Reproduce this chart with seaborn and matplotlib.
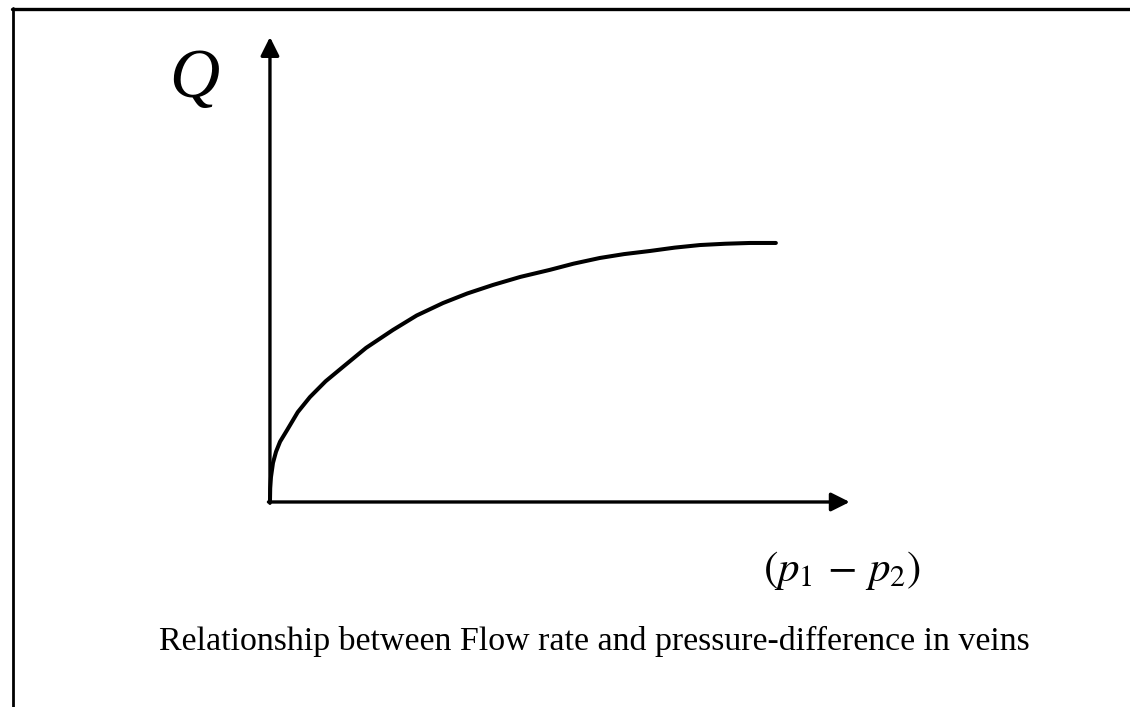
import matplotlib
matplotlib.use("Agg")
import matplotlib.pyplot as plt
import seaborn as sns
import pandas as pd

# pressure difference (p1 - p2) and flow rate Q (arbitrary units)
pressure_diff = [0.0, 0.005, 0.02, 0.06, 0.12, 0.2, 0.34, 0.55, 0.79, 1.1, 1.44, 1.9,
                 2.43, 2.9, 3.42, 3.9, 4.41, 4.95, 5.53, 6.0, 6.52, 7.0, 7.51, 8.0,
                 8.5, 9.0, 9.49, 10.0]
flow_rate = [0.0, 0.53, 0.96, 1.51, 1.94, 2.33, 2.78, 3.47, 4.05, 4.66, 5.21, 5.95,
             6.64, 7.2, 7.68, 8.05, 8.38, 8.69, 8.96, 9.2, 9.42, 9.57, 9.69, 9.82,
             9.92, 9.97, 10.0, 10.0]

x_axis_end = 11.46
y_axis_end = 17.95

caption = "Relationship between Flow rate and pressure-difference in veins"

df = pd.DataFrame({"dp": pressure_diff, "Q": flow_rate})

sns.set_theme(style="white")
plt.rcParams["font.family"] = ["Liberation Serif", "DejaVu Serif"]
plt.rcParams["mathtext.fontset"] = "stix"
plt.rcParams["text.color"] = "black"

fig = plt.figure(figsize=(11.3, 7.07), dpi=100)
ax = fig.add_axes([0, 0, 1, 1])

sns.lineplot(data=df, x="dp", y="Q", ax=ax, color="black", linewidth=2.9,
             sort=False, estimator=None)

# axis arrows
arrow = dict(arrowstyle="-|>", color="black", lw=2.4, mutation_scale=28,
             shrinkA=0, shrinkB=0)
ax.annotate("", xy=(0, y_axis_end), xytext=(0, -0.05), arrowprops=arrow)
ax.annotate("", xy=(x_axis_end, 0), xytext=(-0.03, 0), arrowprops=arrow)

ax.set_xlim(-5.336, 17.0)
ax.set_ylim(-7.915, 19.38)
ax.axis("off")

# axis labels and caption
fig.text(194 / 1130, 1 - 80 / 707, "Q", fontsize=50, style="italic",
         color="black", ha="center", va="center")
fig.text(842 / 1130, 1 - 571 / 707, r"$(p_1\,-\,p_2)$", fontsize=31,
         color="black", ha="center", va="center")
fig.text(594 / 1130, 1 - 650 / 707, caption, fontsize=24.4,
         color="black", ha="center", va="baseline")

# frame lines (top and left)
fig.add_artist(plt.Line2D([12 / 1130, 1], [1 - 8.5 / 707, 1 - 8.5 / 707],
                          transform=fig.transFigure, color="black", lw=2.4))
fig.add_artist(plt.Line2D([13 / 1130, 13 / 1130], [0, 1 - 7.5 / 707],
                          transform=fig.transFigure, color="black", lw=2.0))

fig.savefig("out.png", dpi=100, facecolor="white")
